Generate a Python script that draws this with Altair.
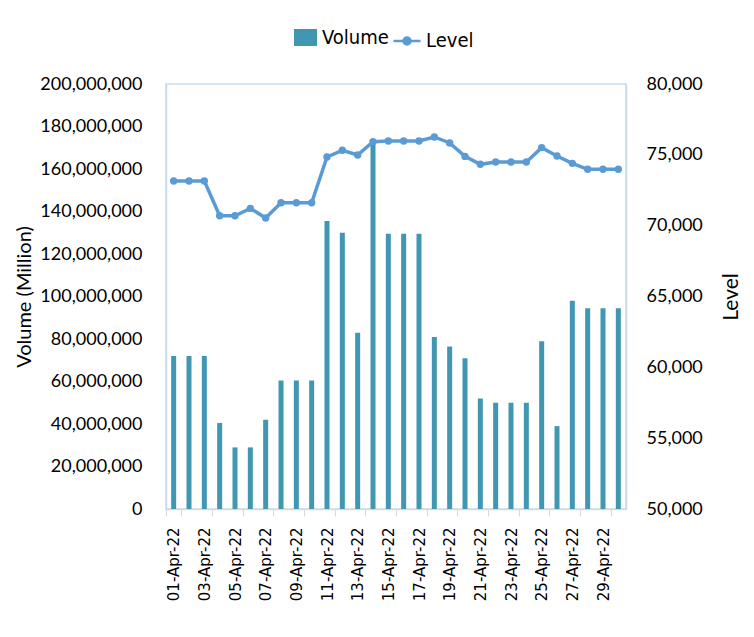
import altair as alt
import pandas as pd

dates = ["01-Apr-22", "02-Apr-22", "03-Apr-22", "04-Apr-22", "05-Apr-22", "06-Apr-22",
         "07-Apr-22", "08-Apr-22", "09-Apr-22", "10-Apr-22", "11-Apr-22", "12-Apr-22",
         "13-Apr-22", "14-Apr-22", "15-Apr-22", "16-Apr-22", "17-Apr-22", "18-Apr-22",
         "19-Apr-22", "20-Apr-22", "21-Apr-22", "22-Apr-22", "23-Apr-22", "24-Apr-22",
         "25-Apr-22", "26-Apr-22", "27-Apr-22", "28-Apr-22", "29-Apr-22", "30-Apr-22"]
tick_dates = ["01-Apr-22", "03-Apr-22", "05-Apr-22", "07-Apr-22", "09-Apr-22",
              "11-Apr-22", "13-Apr-22", "15-Apr-22", "17-Apr-22", "19-Apr-22",
              "21-Apr-22", "23-Apr-22", "25-Apr-22", "27-Apr-22", "29-Apr-22"]
volume = [72000000, 72000000, 72000000, 40500000, 29000000, 29000000, 42000000,
          60500000, 60500000, 60500000, 135500000, 130000000, 83000000, 174000000,
          129500000, 129500000, 129500000, 81000000, 76500000, 71000000, 52000000,
          50000000, 50000000, 50000000, 79000000, 39000000, 98000000, 94500000,
          94500000, 94500000]
level = [73150, 73150, 73150, 70700, 70700, 71220, 70540, 71620, 71620, 71620,
         74850, 75320, 74990, 75930, 75980, 75980, 75980, 76260, 75840, 74890,
         74330, 74490, 74490, 74490, 75510, 74920, 74400, 73980, 73980, 73980]
vol_ticks = [0, 20000000, 40000000, 60000000, 80000000, 100000000, 120000000,
             140000000, 160000000, 180000000, 200000000]
lvl_ticks = [50000, 55000, 60000, 65000, 70000, 75000, 80000]

df = pd.DataFrame({"date": dates, "volume": volume, "level": level,
                   "vs": "Volume", "ls": "Level"})

BAR = "#4197B1"
LINE = "#5B9BD5"
FRAME = "#C5DBF0"
LABEL_FONT = "Lato"
LEGEND_FONT = "DejaVu Sans Condensed, Roboto Condensed, Liberation Sans Narrow, Roboto"

x = alt.X("date:N", sort=dates, title=None,
          scale=alt.Scale(paddingInner=0, paddingOuter=0),
          axis=alt.Axis(values=tick_dates, tickBand="extent", labelAngle=-90,
                        labelFont="DejaVu Sans", labelFontSize=15, labelColor="#000000",
                        labelPadding=11, tickSize=7, tickColor="#D9D9D9",
                        domainColor="#D9D9D9", domainWidth=1.5, labelAlign="right",
                        labelBaseline="middle"))

bars = alt.Chart(df).mark_bar(size=5).encode(
    x=x,
    y=alt.Y("volume:Q", title="Volume (Million)",
            scale=alt.Scale(domain=[0, 200000000], nice=False),
            axis=alt.Axis(values=vol_ticks, format=",.0f", formatType="number",
                          ticks=False, grid=False,
                          domainColor=FRAME, domainWidth=1.5,
                          labelFont=LABEL_FONT, labelFontSize=18, labelColor="#000000",
                          labelPadding=24, titleFont=LABEL_FONT, titleFontSize=20,
                          titleFontWeight="normal", titleColor="#000000",
                          titlePadding=5)),
    fill=alt.Fill("vs:N", scale=alt.Scale(domain=["Volume"], range=[BAR]),
                  legend=alt.Legend(title=None, orient="none", legendX=128, legendY=-58,
                                    symbolType="M-1,-0.74H1V0.74H-1Z", symbolSize=529,
                                    symbolStrokeWidth=0,
                                    labelFont=LEGEND_FONT, labelFontSize=20,
                                    labelColor="#000000", labelOffset=5)),
)

y_level = alt.Y("level:Q", title="Level",
                scale=alt.Scale(domain=[50000, 80000], nice=False),
                axis=alt.Axis(orient="right", values=lvl_ticks, format=",.0f",
                              formatType="number", ticks=False,
                              grid=False, domainColor=FRAME, domainWidth=1.5,
                              labelFont=LABEL_FONT, labelFontSize=18, labelColor="#000000",
                              labelPadding=20, titleFont=LABEL_FONT, titleFontSize=21,
                              titleFontWeight="normal", titleColor="#000000",
                              titlePadding=18, titleAngle=-90, titleBaseline="top"))

line = alt.Chart(df).mark_line(strokeWidth=3.5).encode(
    x=x,
    y=y_level,
    stroke=alt.Stroke("ls:N", scale=alt.Scale(domain=["Level"], range=[LINE]),
                      legend=alt.Legend(title=None, orient="none", legendX=226, legendY=-58,
                                        symbolType="M-1,0H1M-0.26,0A0.26,0.26 0 1,1 0.26,0A0.26,0.26 0 1,1 -0.26,0",
                                        symbolSize=729, symbolStrokeWidth=2.5,
                                        symbolFillColor=LINE,
                                        labelFont=LEGEND_FONT, labelFontSize=20,
                                        labelColor="#000000", labelOffset=4)),
)

points = alt.Chart(df).mark_circle(size=55, color=LINE, opacity=1).encode(
    x=x,
    y=y_level,
)

chart = alt.layer(bars, alt.layer(line, points)).resolve_scale(
    y="independent"
).properties(
    width=460, height=425,
    padding={"left": 14, "top": 26, "right": 4, "bottom": 10},
    background="#FFFFFF",
).configure_view(stroke=FRAME, strokeWidth=1.5)

chart.save("out.html", embed_options={"renderer": "svg", "actions": False})
